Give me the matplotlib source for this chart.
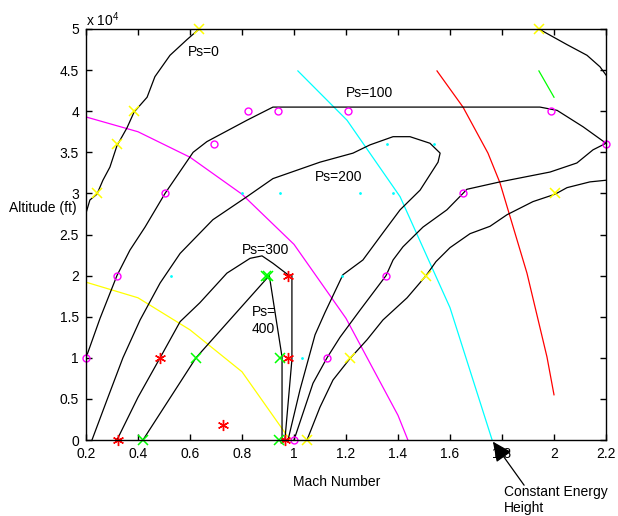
import matplotlib
matplotlib.use("Agg")
import matplotlib.pyplot as plt
from matplotlib.ticker import FuncFormatter

plt.rcParams['font.family'] = ['Liberation Sans', 'DejaVu Sans']
plt.rcParams['mathtext.default'] = 'regular'

# ---------------- data (Mach, altitude ft) ----------------
ps0_left_M = [0.200, 0.215, 0.242, 0.265, 0.292, 0.319, 0.358, 0.385, 0.435, 0.465, 0.523, 0.588, 0.635]
ps0_left_h = [27600, 29200, 29900, 31600, 33200, 35800, 38000, 39900, 41700, 44200, 46800, 48700, 50000]

ps0_top_M = [1.942, 2.050, 2.127, 2.177, 2.200]
ps0_top_h = [50000, 48100, 46800, 45400, 44400]

ps0_right_M = [2.200, 2.138, 2.050, 2.004, 1.919, 1.819, 1.754, 1.677, 1.600, 1.546, 1.508,
               1.435, 1.342, 1.281, 1.215, 1.150, 1.100, 1.050]
ps0_right_h = [31600, 31400, 30700, 29900, 29000, 27400, 26000, 25100, 23400, 21700, 20000,
               17300, 14600, 12200, 9900, 7300, 4000, 0]

ps100_M = [0.200, 0.254, 0.319, 0.369, 0.427, 0.504, 0.612, 0.665, 0.742, 0.819, 0.919,
           1.946, 2.012, 2.112, 2.200, 2.150, 2.088, 1.985, 1.792, 1.665, 1.650, 1.588,
           1.496, 1.419, 1.381, 1.354, 1.254, 1.177, 1.127, 1.073, 1.000]
ps100_h = [10000, 14800, 20000, 23100, 25900, 30000, 35000, 36300, 37600, 38900, 40500,
           40500, 40100, 38100, 36100, 35300, 33700, 32600, 31400, 30500, 30000, 28000,
           25900, 23500, 21900, 20000, 15800, 12500, 10000, 6900, 0]

ps200_M = [0.223, 0.281, 0.342, 0.408, 0.485, 0.562, 0.688, 0.819, 0.919, 1.100, 1.227,
           1.292, 1.381, 1.446, 1.523, 1.562, 1.554, 1.485, 1.408, 1.342, 1.265, 1.188,
           1.119, 1.081, 1.023, 0.977]
ps200_h = [0, 4900, 10000, 14600, 19100, 22700, 26800, 29600, 31800, 33800, 34900,
           35900, 36900, 36900, 36100, 34900, 33800, 30400, 28000, 25200, 21900, 20100,
           15500, 12800, 6100, 0]

ps300_M = [0.319, 0.400, 0.485, 0.562, 0.638, 0.742, 0.831, 0.877, 0.919, 0.977, 0.992, 0.992, 0.965]
ps300_h = [0, 5200, 10000, 14400, 16700, 20300, 22100, 22400, 21500, 20100, 20000, 9800, 0]

ps400_M = [0.419, 0.623, 0.905, 0.954, 0.954]
ps400_h = [0, 10000, 20000, 10100, 0]

# markers
circ_M = [0.200, 0.320, 0.504, 0.694, 0.823, 0.938, 1.207, 1.988, 2.200, 1.650, 1.354, 1.127, 1.000]
circ_h = [10000, 20000, 30000, 36000, 40000, 40000, 40000, 40000, 36000, 30000, 20000, 10000, 0]

yx_M = [0.242, 0.319, 0.385, 0.635, 1.942, 2.004, 1.508, 1.215, 1.050]
yx_h = [30000, 36000, 40000, 50000, 50000, 30000, 20000, 10000, 0]

rs_M = [0.322, 0.485, 0.977, 0.978, 0.965, 0.727]
rs_h = [0, 10000, 20000, 10000, 0, 1800]

gx_M = [0.419, 0.623, 0.893, 0.900, 0.946, 0.942]
gx_h = [0, 10000, 20000, 20000, 10000, 0]

cd_M = [0.527, 0.800, 0.946, 1.254, 1.381, 1.358, 1.538, 1.183, 1.031]
cd_h = [20000, 30000, 30000, 30000, 30000, 36000, 36000, 20000, 10000]

# coloured lines
mag_M = [0.2, 0.4, 0.6, 0.8, 1.0, 1.2, 1.4, 1.438]
mag_h = [39300, 37500, 34400, 29900, 23800, 14800, 3000, 0]

yel_M = [0.2, 0.4, 0.6, 0.8, 0.985]
yel_h = [19200, 17300, 13400, 8300, 0]

cyan_M = [1.015, 1.204, 1.408, 1.600, 1.762]
cyan_h = [44900, 38900, 29600, 16100, 0]

red_M = [1.55, 1.65, 1.746, 1.792, 1.896, 1.973, 2.0]
red_h = [44900, 40500, 34900, 31300, 20300, 10100, 5500]

grn_M = [1.942, 2.0]
grn_h = [44900, 41700]

xticks = [0.2, 0.4, 0.6, 0.8, 1.0, 1.2, 1.4, 1.6, 1.8, 2.0, 2.2]
yticks = [0, 5000, 10000, 15000, 20000, 25000, 30000, 35000, 40000, 45000, 50000]

# ---------------- figure ----------------
fig = plt.figure(figsize=(6.18, 5.16), dpi=100)
ax = fig.add_axes([86/618, 76/516, 520/618, 411/516])

lw = 0.9
ax.plot(mag_M, mag_h, color='#ff00ff', lw=lw)
ax.plot(yel_M, yel_h, color='#ffff00', lw=lw)
ax.plot(cyan_M, cyan_h, color='#00ffff', lw=lw)
ax.plot(red_M, red_h, color='#ff0000', lw=lw)
ax.plot(grn_M, grn_h, color='#00ff00', lw=lw)

for M, h in [(ps0_left_M, ps0_left_h), (ps0_top_M, ps0_top_h), (ps0_right_M, ps0_right_h),
             (ps100_M, ps100_h), (ps200_M, ps200_h), (ps300_M, ps300_h), (ps400_M, ps400_h)]:
    ax.plot(M, h, color='black', lw=lw)

ax.plot(cd_M, cd_h, ls='none', marker='.', ms=2, color='#00ffff')
ax.plot(circ_M, circ_h, ls='none', marker='o', ms=5, mfc='none', mec='#ff00ff', mew=1, clip_on=False)
ax.plot(yx_M, yx_h, ls='none', marker='x', ms=6.5, mec='#ffff00', mew=1.1, clip_on=False)
ax.plot(rs_M, rs_h, ls='none', marker=(6, 2, 0), ms=8, mec='#ff0000', mew=1.0, clip_on=False)
ax.plot(gx_M, gx_h, ls='none', marker='x', ms=6.5, mec='#00ff00', mew=1.1, clip_on=False)

ax.text(0.592, 47200, 'Ps=0', fontsize=10, va='center', ha='left')
ax.text(1.2, 42200, 'Ps=100', fontsize=10, va='center', ha='left')
ax.text(1.081, 32000, 'Ps=200', fontsize=10, va='center', ha='left')
ax.text(0.8, 23100, 'Ps=300', fontsize=10, va='center', ha='left')
ax.text(0.838, 14500, 'Ps=\n400', fontsize=10, va='center', ha='left', linespacing=1.25)

ax.set_xlim(0.2, 2.2)
ax.set_ylim(0, 50000)
ax.set_xticks(xticks)
ax.set_yticks(yticks)
ax.xaxis.set_major_formatter(FuncFormatter(lambda v, p: f'{v:g}'))
ax.yaxis.set_major_formatter(FuncFormatter(lambda v, p: f'{v/1e4:g}'))
ax.tick_params(direction='in', top=True, right=True, length=4, width=1, labelsize=10)
ax.tick_params(axis='x', pad=5)
ax.tick_params(axis='y', pad=5)
for s in ax.spines.values():
    s.set_linewidth(1.0)

fig.text(86/618, (516-20)/516, 'x 10$^4$', fontsize=10, ha='left', va='center')
fig.text(9/618, (516-208)/516, 'Altitude (ft)', fontsize=10, ha='left', va='center')
fig.text(337/618, (516-482)/516, 'Mach Number', fontsize=10, ha='center', va='center')
fig.text(504/618, (516-500)/516, 'Constant Energy\nHeight', fontsize=10, ha='left', va='center',
         linespacing=1.15)

ax.annotate('', xy=(1.765, -200), xytext=(1.885, -5500), xycoords='data', textcoords='data',
            annotation_clip=False,
            arrowprops=dict(arrowstyle='-|>,head_length=0.6,head_width=0.28', mutation_scale=20,
                            color='black', lw=0.9, shrinkA=0, shrinkB=0))

fig.savefig('out.png', dpi=100)
